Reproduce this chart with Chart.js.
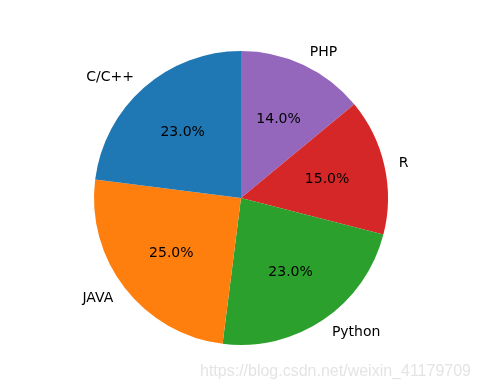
<!DOCTYPE html>
<html>
<head>
<meta charset="utf-8">
<script src="https://cdn.jsdelivr.net/npm/chart.js@4"></script>
<style>
  html, body { margin: 0; padding: 0; background: #fff; }
  #wrap { width: 491px; height: 390px; position: relative; }
</style>
</head>
<body>
<div id="wrap"><canvas id="pieChart" width="491" height="390"></canvas></div>
<script>
// drawn clockwise from the top, so listed in reverse of matplotlib's counter-clockwise order
var languages = ['PHP', 'R', 'Python', 'JAVA', 'C/C++'];
var shares = [14, 15, 23, 25, 23];
var sliceColors = ['#9467bd', '#d62728', '#2ca02c', '#ff7f0e', '#1f77b4'];

var pieLabels = {
    id: 'pieLabels',
    afterDraw: function(chart) {
        var ctx = chart.ctx;
        var meta = chart.getDatasetMeta(0);
        var total = shares.reduce(function(a, b) { return a + b; }, 0);
        ctx.save();
        ctx.font = '14px "DejaVu Sans"';
        ctx.fillStyle = '#000';
        ctx.textBaseline = 'middle';
        meta.data.forEach(function(arc, i) {
            var mid = (arc.startAngle + arc.endAngle) / 2;
            var r = arc.outerRadius;
            var cx = Math.cos(mid), cy = Math.sin(mid);
            ctx.textAlign = 'center';
            ctx.fillText((shares[i] / total * 100).toFixed(1) + '%', arc.x + cx * r * 0.6, arc.y + cy * r * 0.6 + 1);
            ctx.textAlign = cx >= 0 ? 'left' : 'right';
            ctx.fillText(languages[i], arc.x + cx * r * 1.1, arc.y + cy * r * 1.1 + 1);
        });
        ctx.font = '16px "Liberation Sans"';
        ctx.fillStyle = '#e4e4e4';
        ctx.textAlign = 'right';
        ctx.fillText('https://blog.csdn.net/weixin_41179709', 471, 372);
        ctx.restore();
    }
};

document.addEventListener('DOMContentLoaded', function() {
    var ctx = document.getElementById('pieChart').getContext('2d');
    new Chart(ctx, {
        type: 'pie',
        data: {
            labels: languages,
            datasets: [{
                data: shares,
                backgroundColor: sliceColors,
                borderWidth: 0,
                offset: 0,
                hoverOffset: 0
            }]
        },
        options: {
            responsive: false,
            animation: false,
            layout: {
                padding: { left: 94, right: 103, top: 51, bottom: 45 }
            },
            plugins: {
                legend: { display: false },
                tooltip: { enabled: false }
            }
        },
        plugins: [pieLabels]
    });
});
</script>
</body>
</html>
